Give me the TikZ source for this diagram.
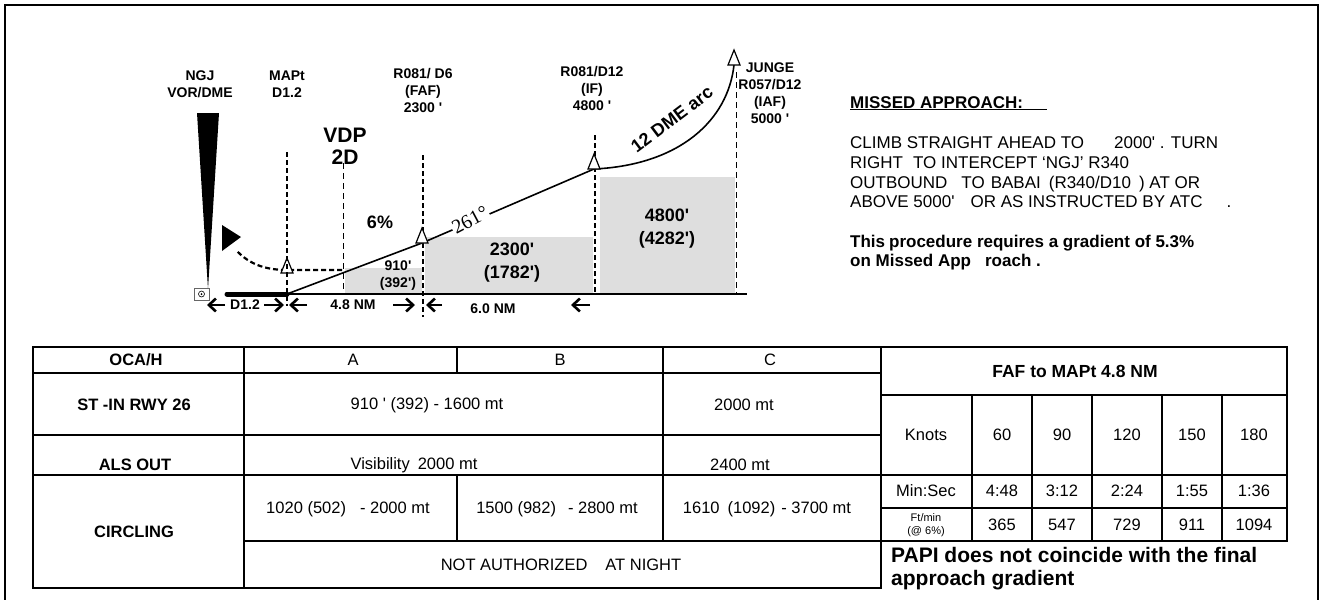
\documentclass[tikz,border=0pt]{standalone}
\usepackage{fontspec}
\setmainfont{Liberation Sans}[Ligatures=TeXOff]
\newfontfamily\bearingfont{Liberation Serif}
\usetikzlibrary{arrows.meta}

\tikzset{
  fixlabel/.style={font=\bfseries\fontsize{14}{17}\selectfont, align=center, inner sep=0pt},
  ocalabel/.style={font=\bfseries\fontsize{18}{23}\selectfont, align=center, inner sep=0pt},
  heavydash/.style={line width=2pt, dash pattern=on 5pt off 3pt},
  lightdash/.style={line width=1pt, dash pattern=on 6pt off 4pt},
  ocabox/.style={fill=black!13, draw=none},
  track/.style={line width=1.6pt},
  dimarrow/.style={-{Straight Barb[length=7pt,width=13pt]}, line width=2.6pt},
  fixtri/.pic={\draw[fill=white, line width=1.2pt] (-6,0) -- (0,-15) -- (6,0) -- cycle;},
  grid/.style={line width=1.2pt},
  cell/.style={font=\fontsize{16.5}{19}\selectfont, inner sep=0pt, align=center},
  rowhead/.style={font=\bfseries\fontsize{16.5}{19}\selectfont, inner sep=0pt},
  bodytext/.style={font=\fontsize{17}{19.7}\selectfont, align=left, inner sep=0pt}
}

\begin{document}
\begin{tikzpicture}[x=1pt, y=-1pt]
\useasboundingbox (0,0) rectangle (1326,600);
\draw[line width=2pt] (5,600) -- (5,5) -- (1318,5) -- (1318,600);

% profile view
\coordinate (thr) at (287,294);
\coordinate (faf) at (422,243);
\coordinate (ifix) at (594,169);
\coordinate (iaf) at (734,65);
\coordinate (gnd) at (747,294);
\coordinate (mapt) at (287,273);

\fill[ocabox] (345,268) rectangle (422,294);
\fill[ocabox] (425,237) rectangle (593,294);
\fill[ocabox] (600,177) rectangle (735,294);

\draw[lightdash] (343,163) -- (343,294);
\draw[heavydash] (423,155) -- (423,317);
\draw[heavydash] (595,135) -- (595,294);
\draw[lightdash] (736,72) -- (736,294);

% station and runway
\fill (197,113) -- (219,113) -- (208,289) -- cycle;
\draw[black!60, line width=0.8pt] (194,288) rectangle (209,300);
\draw[line width=0.6pt] (201.5,294) circle (3);
\fill (201.5,294) circle (1);
\draw[line width=5pt, line cap=round] (227,294) -- (thr);
\draw[line width=1.5pt] (thr) -- (gnd);

% final and arc
\draw[track] (thr) -- (faf) -- (ifix);
\node[font=\bearingfont\fontsize{20}{24}\selectfont, fill=white, inner sep=1pt, rotate=28] (brg) at (470,220) {261°};
\draw[track] (ifix) .. controls (680,165) and (728,120) .. (iaf);
\node[font=\bfseries\fontsize{18}{20}\selectfont, inner sep=0pt, rotate=37] (dmearc) at (672,119) {12 DME arc};

% missed approach turn
\coordinate (vdpturn) at (342,270);
\coordinate (maptturn) at (287,270);
\coordinate (turnend) at (236,250);
\draw[heavydash, line width=2.2pt] (vdpturn) -- (maptturn) .. controls (262,270) and (247,262) .. (turnend);
\fill (222,225) -- (241,237) -- (222,251) -- cycle;

\pic at (mapt) {fixtri};
\pic at (faf) {fixtri};
\pic at (ifix) {fixtri};
\pic at (iaf) {fixtri};
\draw[heavydash] (287,152) -- (287,306);

% labels
\node[fixlabel] (ngjlbl) at (200,84) {NGJ\\VOR/DME};
\node[fixlabel] (maptlbl) at (287,84) {MAPt\\D1.2};
\node[fixlabel] (faflbl) at (423,91) {R081/ D6\\(FAF)\\2300 '};
\node[fixlabel] (iflbl) at (592,88) {R081/D12\\(IF)\\4800 '};
\node[fixlabel] (iaflbl) at (770,93) {JUNGE\\R057/D12\\(IAF)\\5000 '};
\node[font=\bfseries\fontsize{21}{22}\selectfont, align=center, inner sep=0pt] (vdplbl) at (345,146) {VDP\\2D};
\node[font=\bfseries\fontsize{18}{20}\selectfont, inner sep=0pt] (grad) at (380,222) {6\%};
\node[fixlabel] (oca1) at (398,276) {910'\\(392')};
\node[ocalabel] (oca2) at (512,263) {2300'\\(1782')};
\node[ocalabel] (oca3) at (667,229) {4800'\\(4282')};

% distances
\node[fixlabel] (dist1) at (245,305) {D1.2};
\node[fixlabel] (dist2) at (353,305) {4.8 NM};
\node[fixlabel] (dist3) at (493,309) {6.0 NM};
\foreach \a/\b in {225/207, 264/284, 307/289, 393/415, 442/426, 590/571}
  \draw[dimarrow] (\a,305) -- (\b,305);

% missed approach text
\node[font=\bfseries\fontsize{17}{20}\selectfont, anchor=base west, inner sep=0pt] (mtitle) at (850,108) {\underline{MISSED APPROACH:\hspace{24pt}}};
\node[bodytext, anchor=west] (mtext) at (850,172.5) {CLIMB STRAIGHT AHEAD TO\hspace{30pt}2000' . TURN\\
RIGHT\hspace{10pt}TO INTERCEPT ‘NGJ’ R340\\
OUTBOUND\hspace{14pt}TO\hspace{6pt}BABAI\hspace{8pt}(R340/D10\hspace{8pt}) AT OR\\
ABOVE 5000'\hspace{16pt}OR AS INSTRUCTED BY ATC\hspace{24pt}.};
\node[font=\bfseries\fontsize{17}{19}\selectfont, align=left, anchor=west, inner sep=0pt] (mnote) at (850,253) {This\hspace{4pt}procedure requires a gradient of 5.3\%\\on Missed App\hspace{14pt}roach .};

% minima table
\draw[grid] (33,347) rectangle (881,588);
\draw[grid] (881,347) -- (1287,347) -- (1287,541) -- (244,541);
\draw[grid] (33,373) -- (881,373);
\draw[grid] (881,395) -- (1287,395);
\draw[grid] (33,435) -- (881,435);
\draw[grid] (33,475) -- (1287,475);
\draw[grid] (881,508) -- (1287,508);
\draw[grid] (244,347) -- (244,588);
\draw[grid] (457,347) -- (457,373) (457,475) -- (457,541);
\draw[grid] (663,347) -- (663,541);
\foreach \x in {972,1032,1092,1162,1222}
  \draw[grid] (\x,395) -- (\x,541);

\node[rowhead] (ocah) at (136,360) {OCA/H};
\node[cell] (cata) at (353,360) {A};
\node[cell] (catb) at (560,360) {B};
\node[cell] (catc) at (770,360) {C};
\node[rowhead] (stin) at (134,405) {ST -IN RWY 26};
\node[rowhead] (alsout) at (135,465) {ALS OUT};
\node[rowhead] (circ) at (134,532) {CIRCLING};
\node[cell] (stinab) at (427,405) {910 ' (392) - 1600 mt};
\node[cell] (stinc) at (744,405) {2000 mt};
\node[cell] (alsab) at (414,465) {Visibility\hspace{8pt}2000 mt};
\node[cell] (alsc) at (740,465) {2400 mt};
\node[cell] (circa) at (348,509) {1020 (502)\hspace{14pt}- 2000 mt};
\node[cell] (circb) at (557,509) {1500 (982)\hspace{12pt}- 2800 mt};
\node[cell] (circc) at (767,509) {1610\hspace{8pt}(1092)\hspace{6pt}- 3700 mt};
\node[cell] (night) at (561,565) {NOT AUTHORIZED\hspace{18pt}AT NIGHT};

% timing table
\node[rowhead, font=\bfseries\fontsize{17.5}{20}\selectfont] (timing) at (1075,371) {FAF to MAPt 4.8 NM};
\node[cell] (knots) at (926,435) {Knots};
\node[cell] (minsec) at (926,491) {Min:Sec};
\node[cell, font=\fontsize{11}{13}\selectfont] (ftmin) at (926,525) {Ft/min\\(@ 6\%)};
\foreach \x/\kt/\ms/\fp in {1002/60/4:48/365, 1062/90/3:12/547, 1127/120/2:24/729, 1192/150/1:55/911, 1254/180/1:36/1094} {
  \node[cell] (kt\kt) at (\x,435) {\kt};
  \node[cell] (ms\kt) at (\x,491) {\ms};
  \node[cell] (fp\kt) at (\x,525) {\fp};
}
\node[font=\bfseries\fontsize{21}{23}\selectfont, align=left, anchor=west, inner sep=0pt] (papi) at (891,569) {PAPI does not coincide with the final\\approach gradient};
\end{tikzpicture}
\end{document}
